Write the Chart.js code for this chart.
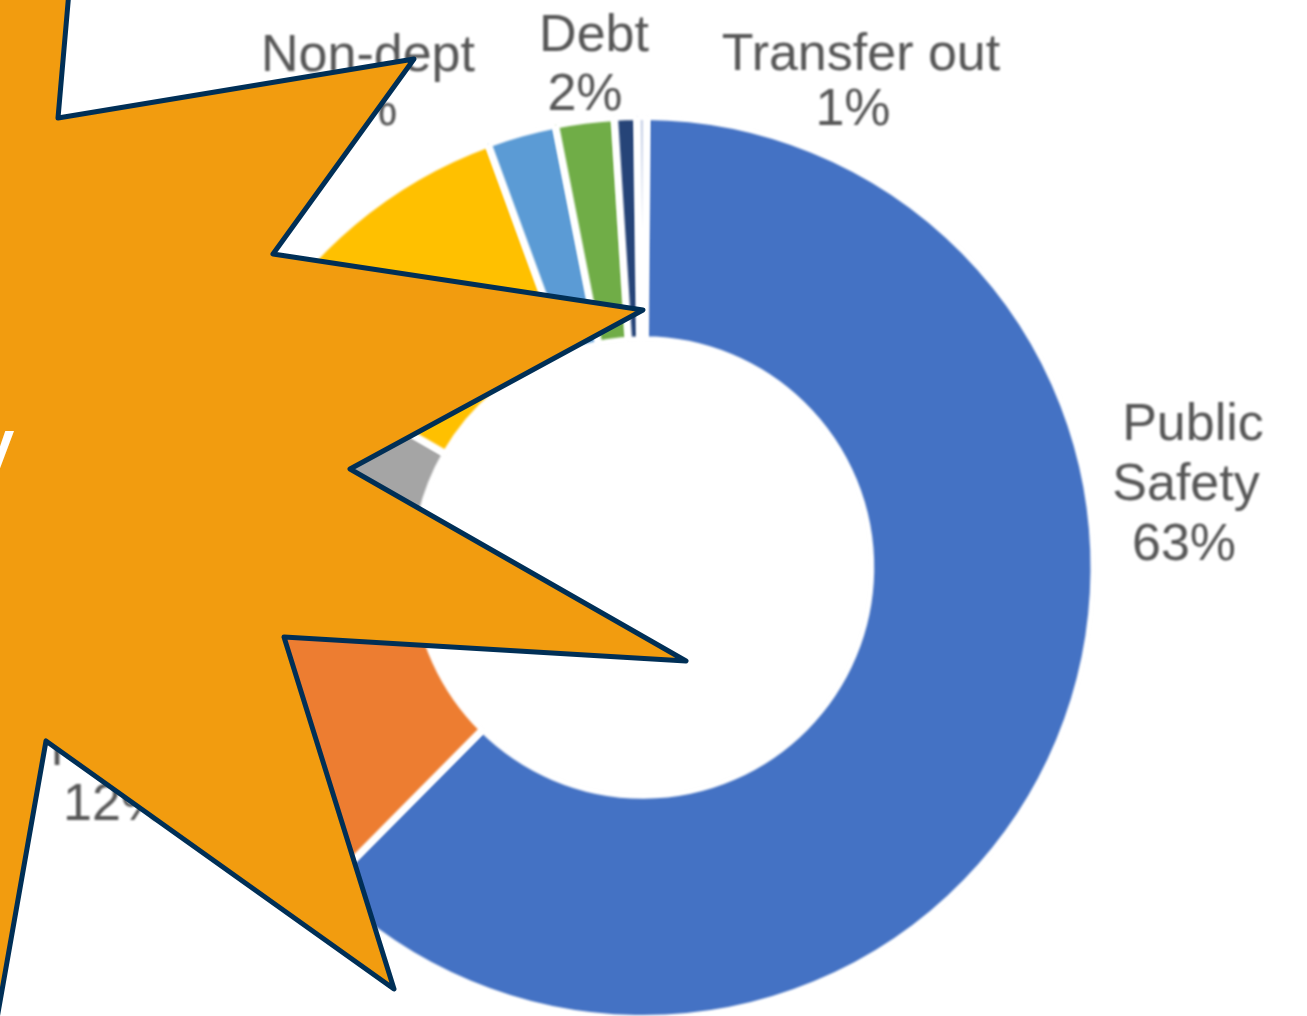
<!DOCTYPE html>
<html>
<head>
<meta charset="utf-8">
<style>
html,body{margin:0;padding:0;background:#fff;overflow:hidden}
#wrap{width:1307px;height:1016px;position:relative;overflow:hidden}
canvas{display:block}
</style>
<script src="https://cdn.jsdelivr.net/npm/chart.js@4/dist/chart.umd.min.js"></script>
</head>
<body>
<div id="wrap"><canvas id="c" width="1307" height="1040"></canvas></div>
<script>
const categories = ["Public Safety", "Orange slice", "Gray slice", "Yellow slice", "Non-dept", "Debt", "Transfer out", "Thin slice"];
const shares = [62.3, 11.6, 9.3, 11.1, 2.47, 2.1, 0.8, 0.33];
const sliceColors = ["#4472C4", "#ED7D31", "#A5A5A5", "#FFC000", "#5B9BD5", "#70AD47", "#264478", "#C5CFE6"];
const labelTexts = ["Public", "Safety", "63%", "Non-dept", "3%", "Debt", "2%", "Transfer out", "1%", "12%", "l"];
const labelSpots = [[1193,440],[1186,500],[1184,560],[368,71],[360,125],[594,51],[585,110],[861,70],[853,125],[115,820],[57,765]];
const starOutline = [[70,-20],[58,118],[414,59],[273,254],[643,310],[350,469],[686,661],[284,637],[394,989],[46,741],[-20,1115],[-60,1115],[-60,-20]];

const softLayer = {
  id: 'softLayer',
  beforeDatasetsDraw(chart){ chart.ctx.save(); chart.ctx.filter = 'blur(1px)'; },
  afterDatasetsDraw(chart){ chart.ctx.restore(); },
  afterDraw(chart){
    const ctx = chart.ctx;
    ctx.save();
    ctx.filter = 'blur(1px)';
    ctx.fillStyle = '#565656';
    ctx.font = '52px "Liberation Sans", Arial, sans-serif';
    ctx.textAlign = 'center';
    ctx.textBaseline = 'alphabetic';
    labelTexts.forEach((t,i)=>ctx.fillText(t, labelSpots[i][0], labelSpots[i][1]));
    ctx.restore();

    ctx.save();
    ctx.beginPath();
    starOutline.forEach((p,i)=> i ? ctx.lineTo(p[0],p[1]) : ctx.moveTo(p[0],p[1]));
    ctx.closePath();
    ctx.fillStyle = '#F29C0F';
    ctx.fill();
    ctx.lineWidth = 5;
    ctx.lineJoin = 'round';
    ctx.strokeStyle = '#002F56';
    ctx.stroke();
    ctx.fillStyle = '#FFFFFF';
    ctx.font = '600 70px "Open Sans", sans-serif';
    ctx.textAlign = 'right';
    ctx.fillText('y', 14, 469);
    ctx.restore();
  }
};

new Chart(document.getElementById('c'), {
  type: 'doughnut',
  data: {
    labels: categories,
    datasets: [{ data: shares, backgroundColor: sliceColors, borderColor: '#FFFFFF', borderWidth: 7, hoverOffset: 0 }]
  },
  options: {
    responsive: false,
    animation: false,
    rotation: 0.45,
    cutout: '50.5%',
    layout: { padding: { left: 188, right: 209, top: 113, bottom: 18 } },
    plugins: { legend: { display: false }, tooltip: { enabled: false } }
  },
  plugins: [softLayer]
});
</script>
</body>
</html>
